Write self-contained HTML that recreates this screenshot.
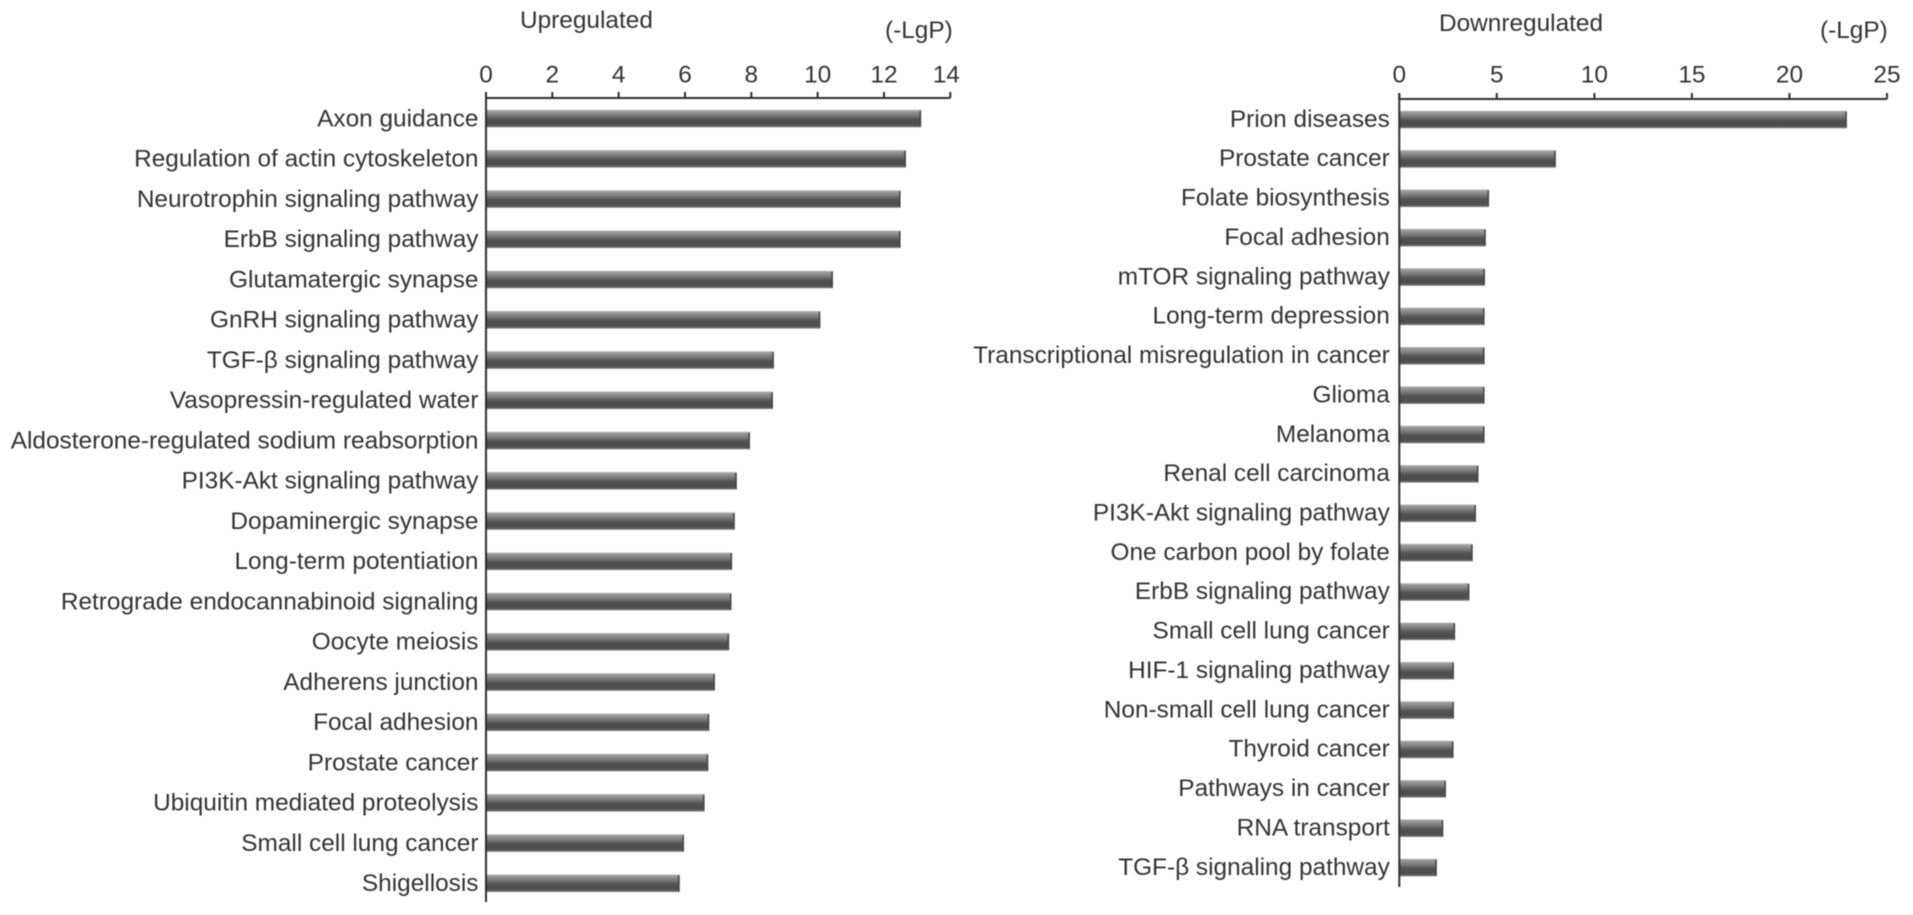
<!DOCTYPE html>
<html lang="en">
<head>
<meta charset="utf-8">
<title>Upregulated and downregulated pathways</title>
<style>
html,body{margin:0;padding:0;background:#fff;width:1913px;height:915px;overflow:hidden}
svg{display:block;filter:blur(0.55px)}
text{font-family:"Liberation Sans",Arial,sans-serif;font-size:24.4px;fill:#333}
</style>
</head>
<body>
<svg id="chart" xmlns="http://www.w3.org/2000/svg" width="1913" height="915" viewBox="0 0 1913 915">
  <defs>
    <linearGradient id="barFill" x1="0" y1="0" x2="0" y2="1">
      <stop offset="0" stop-color="#b4b4b4"/>
      <stop offset="0.1" stop-color="#9a9a9a"/>
      <stop offset="0.3" stop-color="#7e7e7e"/>
      <stop offset="0.55" stop-color="#525252"/>
      <stop offset="0.8" stop-color="#4c4c4c"/>
      <stop offset="0.93" stop-color="#5e5e5e"/>
      <stop offset="1" stop-color="#a8a8a8"/>
    </linearGradient>
  </defs>
  <g id="panel-up"></g>
  <g id="panel-down"></g>
</svg>
<script>
const upCategories = ["Axon guidance","Regulation of actin cytoskeleton","Neurotrophin signaling pathway","ErbB signaling pathway","Glutamatergic synapse","GnRH signaling pathway","TGF-β signaling pathway","Vasopressin-regulated water","Aldosterone-regulated sodium reabsorption","PI3K-Akt signaling pathway","Dopaminergic synapse","Long-term potentiation","Retrograde endocannabinoid signaling","Oocyte meiosis","Adherens junction","Focal adhesion","Prostate cancer","Ubiquitin mediated proteolysis","Small cell lung cancer","Shigellosis"];
const upValues = [13.12,12.66,12.5,12.5,10.46,10.08,8.68,8.65,7.96,7.56,7.5,7.42,7.4,7.33,6.9,6.73,6.7,6.59,5.97,5.84];
const upTicks = [0,2,4,6,8,10,12,14];

const downCategories = ["Prion diseases","Prostate cancer","Folate biosynthesis","Focal adhesion","mTOR signaling pathway","Long-term depression","Transcriptional misregulation in cancer","Glioma","Melanoma","Renal cell carcinoma","PI3K-Akt signaling pathway","One carbon pool by folate","ErbB signaling pathway","Small cell lung cancer","HIF-1 signaling pathway","Non-small cell lung cancer","Thyroid cancer","Pathways in cancer","RNA transport","TGF-β signaling pathway"];
const downValues = [22.94,8.02,4.6,4.43,4.39,4.37,4.37,4.37,4.37,4.06,3.93,3.76,3.59,2.86,2.8,2.8,2.78,2.39,2.25,1.92];
const downTicks = [0,5,10,15,20,25];

const NS = "http://www.w3.org/2000/svg";

function make(parent, tag, attrs, text) {
  const el = document.createElementNS(NS, tag);
  for (const k in attrs) el.setAttribute(k, attrs[k]);
  if (text !== undefined) el.textContent = text;
  parent.appendChild(el);
  return el;
}

function slug(s) {
  return s.toLowerCase().replace(/[^a-z0-9]+/g, "-");
}

function drawPanel(parent, cfg) {
  const xMax = cfg.ticks[cfg.ticks.length - 1];
  const xScale = v => cfg.x0 + (v / xMax) * (cfg.x1 - cfg.x0);
  const yScale = i => cfg.firstY + i * cfg.stepY;

  cfg.categories.forEach((name, i) => {
    const cy = yScale(i);
    const label = make(parent, "text", {x: cfg.x0 - cfg.labelGap, y: cy + cfg.labelDy, "text-anchor": "end"}, name);
    
    

    const bar = make(parent, "rect", {
      x: cfg.x0, y: cy - 8.8,
      width: xScale(cfg.values[i]) - cfg.x0, height: 17.6,
      fill: "url(#barFill)"
    });
    
    

    const cap = make(parent, "rect", {
      x: xScale(cfg.values[i]) - 1.6, y: cy - 8,
      width: 1.6, height: 16,
      fill: "#4a4a4a"
    });
    
    
  });

  const xAxis = make(parent, "line", {x1: cfg.x0, x2: cfg.x1, y1: cfg.axisY, y2: cfg.axisY, stroke: "#2e2e2e", "stroke-width": 2});
  
  

  const yAxis = make(parent, "line", {x1: cfg.x0, x2: cfg.x0, y1: cfg.axisY - 6, y2: cfg.axisBottom, stroke: "#2e2e2e", "stroke-width": 2});
  
  

  cfg.ticks.forEach((t, i) => {
    const tx = xScale(t);
    const tick = make(parent, "line", {x1: tx, x2: tx, y1: cfg.axisY - 6, y2: cfg.axisY, stroke: "#2e2e2e", "stroke-width": 2});
    
    

    const shift = i === cfg.ticks.length - 1 ? cfg.lastLabelShift : 0;
    const tl = make(parent, "text", {x: tx + shift, y: 82.5, "text-anchor": "middle"}, String(t));
    
    
  });

  const title = make(parent, "text", {x: cfg.titleX, y: cfg.titleY}, cfg.title);
  
  

  const unit = make(parent, "text", {x: cfg.unitX, y: 38}, "(-LgP)");
  
  
}

drawPanel(document.getElementById("panel-up"), {
  categories: upCategories, values: upValues, ticks: upTicks,
  x0: 486, x1: 950.3, axisY: 98, axisBottom: 902,
  firstY: 118.6, stepY: 40.25, labelGap: 7.5, labelDy: 7.7, lastLabelShift: -4,
  title: "Upregulated", titleX: 520, titleY: 28, unitX: 885
});

drawPanel(document.getElementById("panel-down"), {
  categories: downCategories, values: downValues, ticks: downTicks,
  x0: 1399.3, x1: 1887, axisY: 99, axisBottom: 887,
  firstY: 119.6, stepY: 39.37, labelGap: 9.5, labelDy: 7.2, lastLabelShift: 0,
  title: "Downregulated", titleX: 1439, titleY: 31, unitX: 1820
});
</script>
</body>
</html>
